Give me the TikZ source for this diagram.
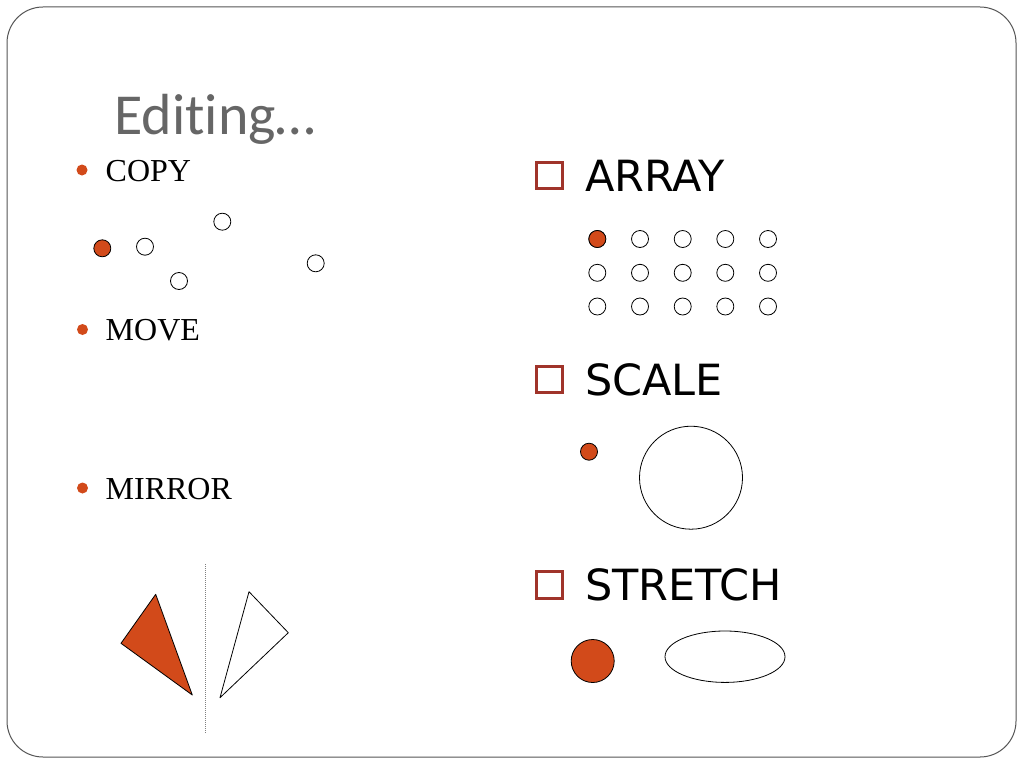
\documentclass[tikz,border=0pt]{standalone}
\usepackage{fontspec}
\setmainfont{Liberation Serif}
\newfontfamily\titlefont[Ligatures=NoCommon]{Carlito}
\newfontfamily\headfont{DejaVu Sans}
\definecolor{accent}{HTML}{D24A1A}
\definecolor{boxred}{HTML}{A0342A}
\definecolor{titlegrey}{HTML}{666666}
\definecolor{framegrey}{HTML}{555555}
\tikzset{
  smalldot/.style={circle,draw=black,line width=0.8pt,inner sep=0pt,minimum size=17pt,fill=white},
  reddot/.style={smalldot,fill=accent},
  bulletdot/.style={circle,fill=accent,inner sep=0pt,minimum size=11pt},
  bullettext/.style={anchor=base west,inner sep=0pt,font=\fontsize{32}{38}\selectfont},
  headtext/.style={anchor=base west,inner sep=0pt,font=\headfont\fontsize{43}{50}\selectfont},
  checkbox/.style={draw=boxred,line width=3pt},
  shapeline/.style={draw=black,line width=0.8pt}
}
\begin{document}
\begin{tikzpicture}[x=1pt,y=-1pt]
\useasboundingbox (0,0) rectangle (1024,768);
\fill[white] (0,0) rectangle (1024,768);
\draw[framegrey,line width=1pt,rounded corners=36pt] (7,7) rectangle (1016,757);

% title
\node[anchor=base west,inner sep=0pt,text=titlegrey,font=\titlefont\fontsize{58}{66}\selectfont] (title) at (114,134.3) {Edit\kern0pt ing…};

% left bullets
\node[bulletdot] (b1) at (82,170) {};
\node[bullettext] (copy) at (105.5,181.7) {COPY};
\node[bulletdot] (b2) at (82.5,329.5) {};
\node[bullettext] (move) at (105.5,340.7) {MOVE};
\node[bulletdot] (b3) at (82.5,488) {};
\node[bullettext] (mirror) at (105.5,499) {MIRROR};

% copy circles
\node[reddot] (c0) at (102.3,248.3) {};
\node[smalldot] (c1) at (145,246.7) {};
\node[smalldot] (c2) at (222.3,221.7) {};
\node[smalldot] (c3) at (179,281) {};
\node[smalldot] (c4) at (315.7,263.3) {};

% mirror
\coordinate (t1) at (155.7,594.3);
\coordinate (t2) at (121,643.3);
\coordinate (t3) at (192.3,695);
\coordinate (u1) at (249,591.7);
\coordinate (u2) at (288.3,632.7);
\coordinate (u3) at (220,697.7);
\fill[accent] (t1) -- (t2) -- (t3) -- cycle;
\draw[shapeline,line join=round] (t1) -- (t2) -- (t3) -- cycle;
\draw[shapeline,line join=round] (u1) -- (u2) -- (u3) -- cycle;
\coordinate (m1) at (205,564);
\coordinate (m2) at (205,733);
\draw[gray,line width=0.8pt,dash pattern=on 1pt off 1pt] (m1) -- (m2);

% right headings
\draw[checkbox] (536.5,162.2) rectangle (562.8,188.5);
\node[headtext] (array) at (585,191.7) {ARRAY};
\draw[checkbox] (536.5,366.5) rectangle (562.8,392.8);
\node[headtext] (scale) at (585,395.7) {SCALE};
\draw[checkbox] (536.5,571.5) rectangle (562.8,598.5);
\node[headtext] (stretch) at (585,600) {STRETCH};

% array grid
\foreach \i/\x in {0/597.3,1/640,2/682.7,3/725.3,4/768}{
  \foreach \j/\y in {0/239,1/272.8,2/306.5}{
    \node[smalldot] (g\i\j) at (\x,\y) {};
  }
}
\node[reddot] at (g00) {};

% scale
\node[reddot] (s0) at (589,451.7) {};
\node[smalldot,minimum size=103pt] (s1) at (691,477.7) {};

% stretch
\node[reddot,minimum size=43pt] (r0) at (592.7,661) {};
\draw[shapeline] (725,656.7) ellipse [x radius=60, y radius=25.7];
\end{tikzpicture}
\end{document}
